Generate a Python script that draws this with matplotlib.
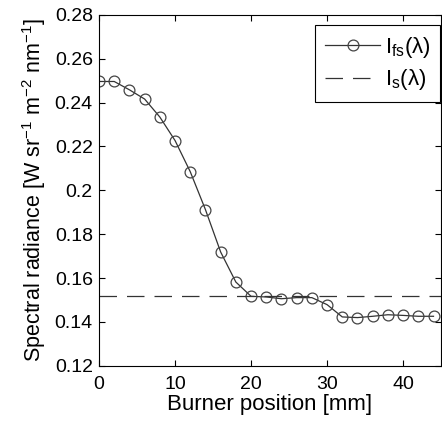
import matplotlib
matplotlib.use('Agg')
import matplotlib.pyplot as plt
from matplotlib.ticker import FuncFormatter

plt.rcParams['font.family'] = ['Liberation Sans', 'DejaVu Sans']
plt.rcParams['mathtext.fontset'] = 'custom'
plt.rcParams['mathtext.rm'] = 'Liberation Sans'
plt.rcParams['mathtext.it'] = 'Liberation Sans:italic'
plt.rcParams['mathtext.bf'] = 'Liberation Sans:bold'

# burner position [mm] and measured radiance
position = [0, 2, 4, 6, 8, 10, 12, 14, 16, 18, 20, 22, 24, 26, 28, 30,
            32, 34, 36, 38, 40, 42, 44]
radiance_fs = [0.2496, 0.2496, 0.2458, 0.2416, 0.2334, 0.2227, 0.2085,
               0.1912, 0.1719, 0.1582, 0.1517, 0.1514, 0.1506, 0.1511,
               0.1511, 0.1479, 0.1423, 0.1420, 0.1426, 0.1433, 0.1430,
               0.1426, 0.1426]
radiance_s = 0.152

fig = plt.figure(figsize=(4.42, 4.22), dpi=100)
ax = fig.add_axes([0.224, 0.133, 0.774, 0.832])

ax.plot(position, radiance_fs, '-o', color='#333333', lw=0.9,
        markerfacecolor='none', markeredgecolor='#444444', markersize=7.8,
        markeredgewidth=0.9, label=r'I$_{\rm fs}$(λ)')
ax.axhline(radiance_s, color='#333333', ls=(0, (14, 8)), lw=0.9,
           label=r'I$_{\rm s}$(λ)')

ax.set_xlim(0, 45)
ax.set_ylim(0.12, 0.28)
ax.set_xticks([0, 10, 20, 30, 40])
ax.set_yticks([0.12, 0.14, 0.16, 0.18, 0.2, 0.22, 0.24, 0.26, 0.28])
ax.yaxis.set_major_formatter(FuncFormatter(lambda v, p: '%g' % round(v, 2)))
ax.tick_params(direction='in', top=True, right=True, labelsize=14, length=4,
               width=0.8)
ax.tick_params(axis='x', pad=7)
ax.tick_params(axis='y', pad=4.5)
for s in ax.spines.values():
    s.set_linewidth(0.8)

ax.set_xlabel('Burner position [mm]', fontsize=16, labelpad=1)
ax.set_ylabel(r'Spectral radiance [W sr$^{-1}$ m$^{-2}$ nm$^{-1}$]',
              fontsize=15.5, labelpad=5)

leg = ax.legend(loc='upper right', bbox_to_anchor=(0.998, 0.972),
                borderaxespad=0, fontsize=16, fancybox=False,
                edgecolor='black', framealpha=1, handlelength=2.5,
                handletextpad=0.2, borderpad=0.45, labelspacing=0.35)
leg.get_frame().set_linewidth(0.8)

plt.savefig('out.png', dpi=100)
